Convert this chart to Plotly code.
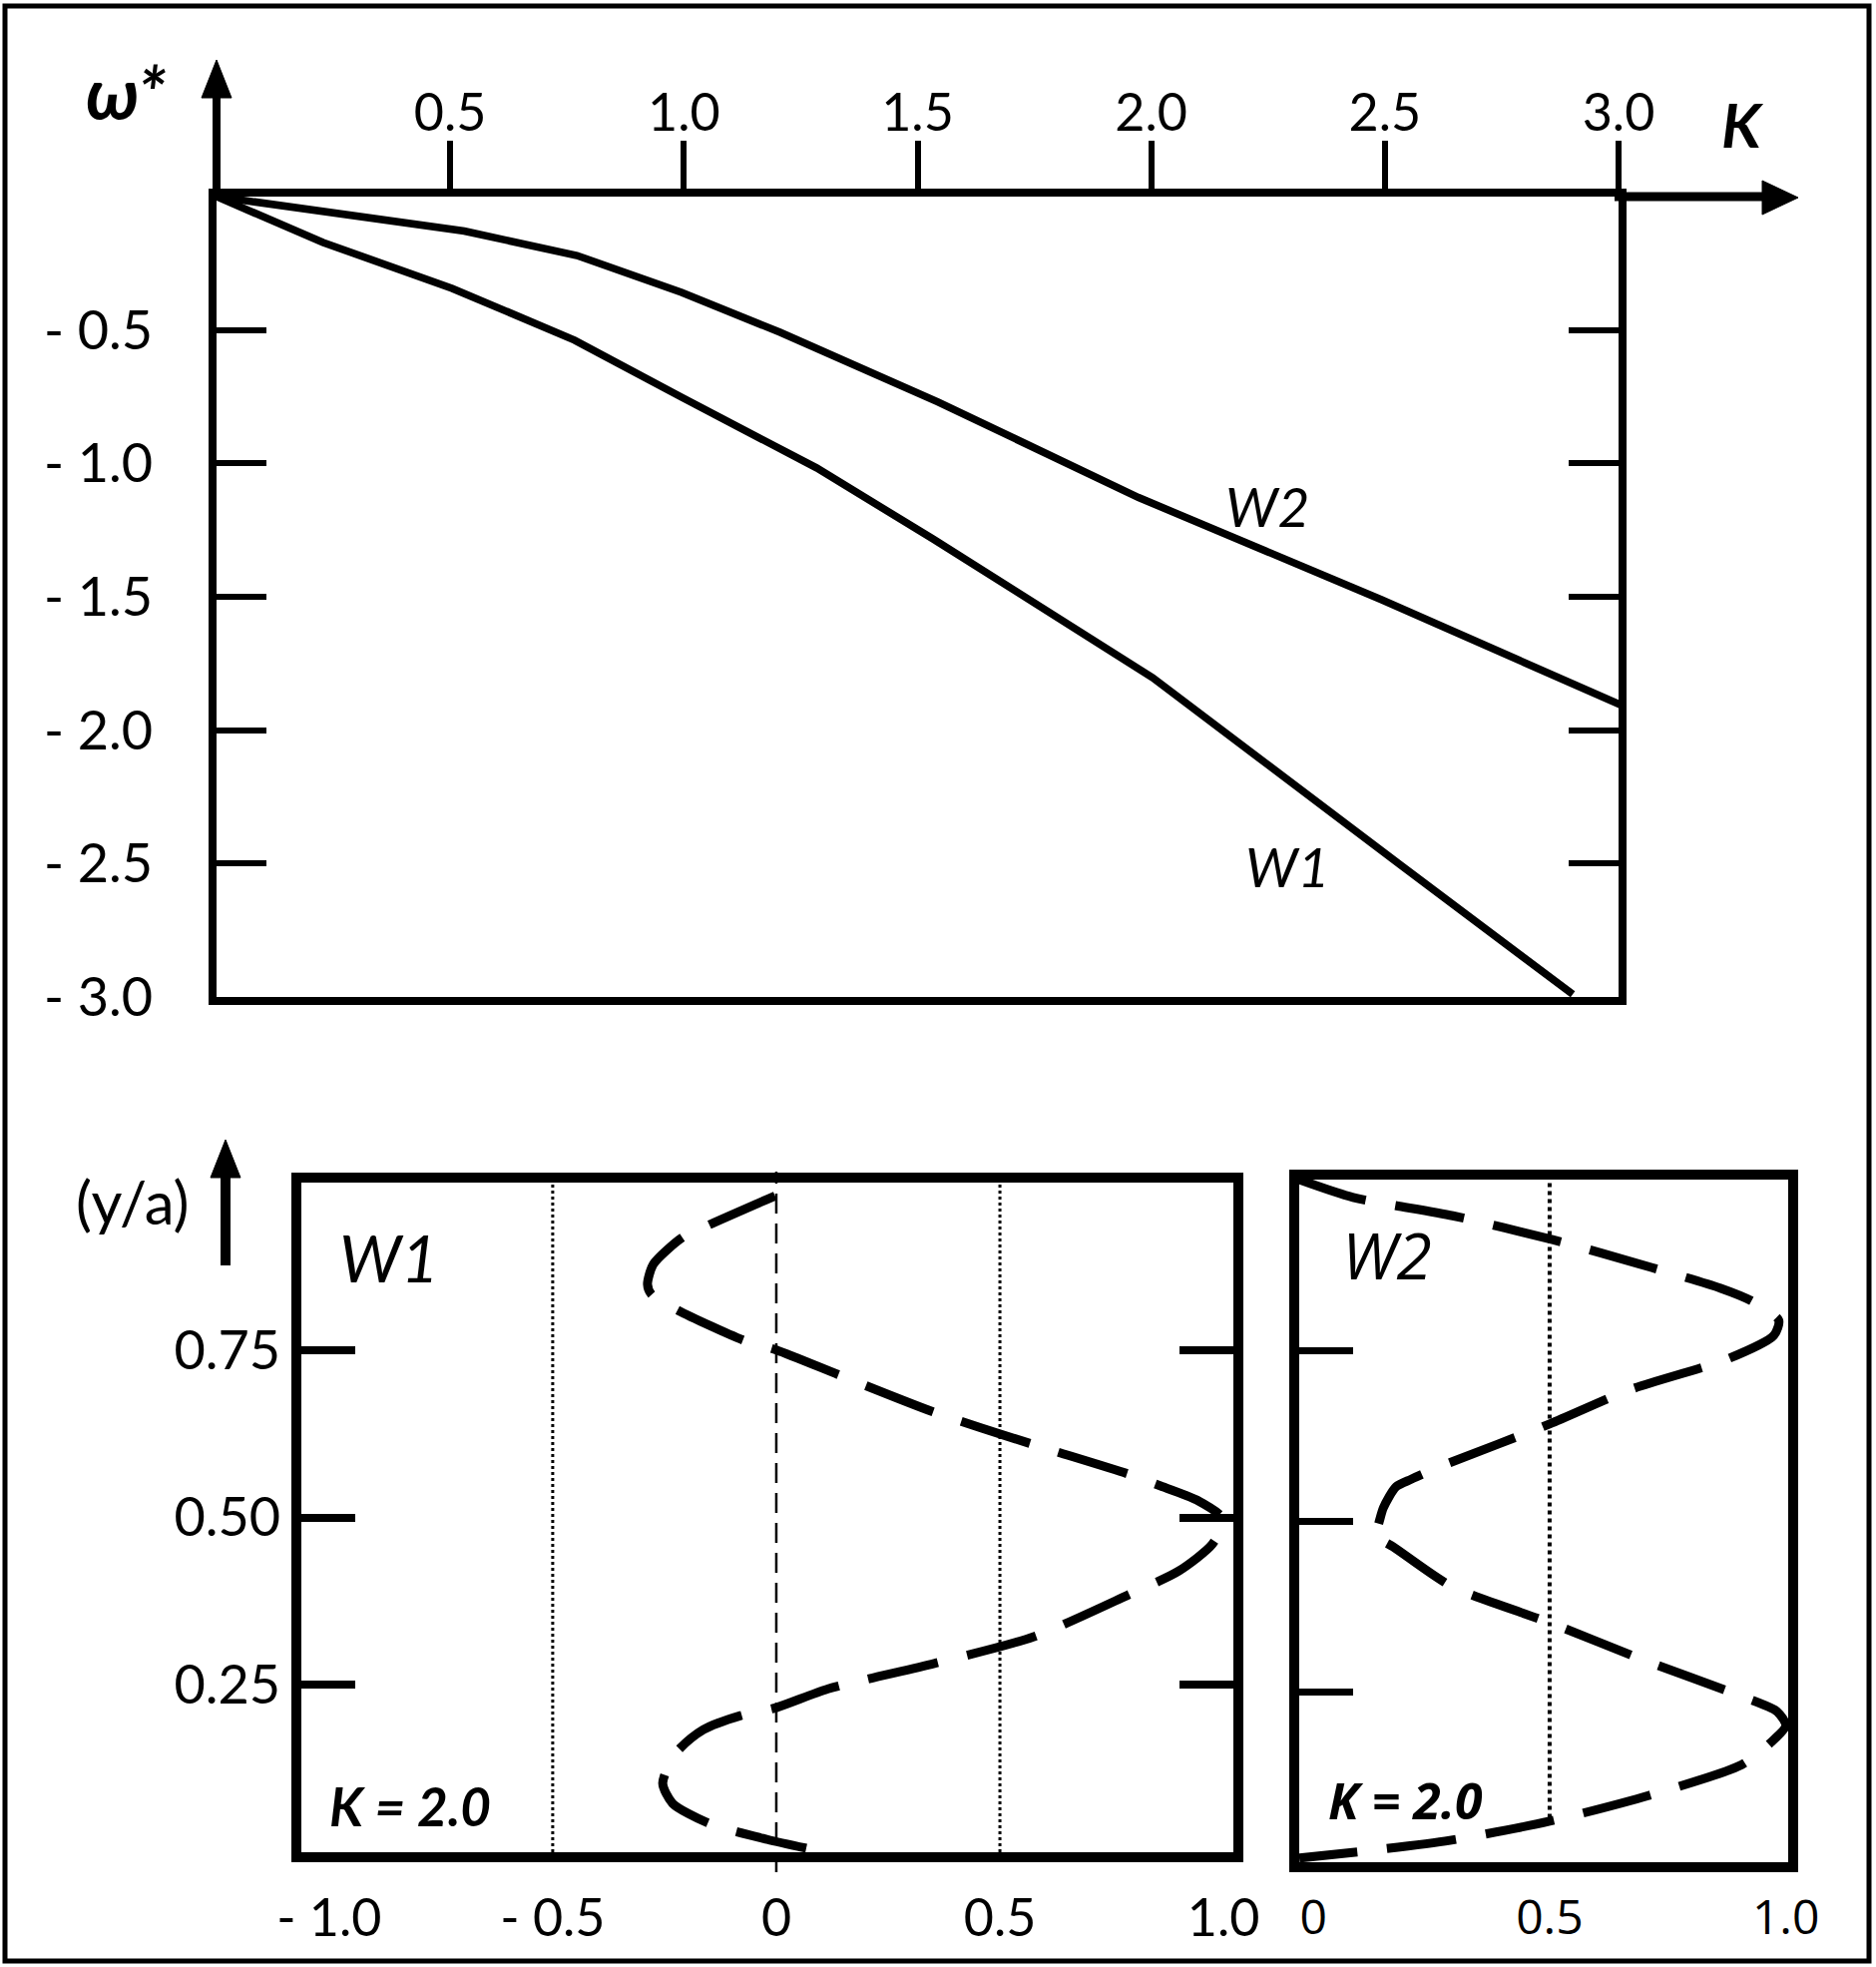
import plotly.graph_objects as go

# ---------------- data ----------------
# upper chart: omega* versus K for the two modes
K_W1 = [0, 0.228, 0.504, 0.766, 0.995, 1.284, 1.533, 2.003, 2.537, 2.902]
OMEGA_W1 = [0, -0.172, -0.344, -0.538, -0.752, -1.017, -1.283, -1.803, -2.51, -2.99]
K_W2 = [0, 0.53, 0.771, 0.995, 1.206, 1.544, 1.973, 2.492, 3.017]
OMEGA_W2 = [0, -0.129, -0.221, -0.359, -0.509, -0.77, -1.128, -1.51, -1.915]

K_TICKS = [0.5, 1.0, 1.5, 2.0, 2.5, 3.0]
K_TICK_TEXT = ["0.5", "1.0", "1.5", "2.0", "2.5", "3.0"]
OMEGA_TICKS = [-0.5, -1.0, -1.5, -2.0, -2.5, -3.0]
OMEGA_TICK_TEXT = ["- 0.5", "- 1.0", "- 1.5", "- 2.0", "- 2.5", "- 3.0"]

# lower charts: mode profiles across (y/a) for K = 2.0
PROFILE_W1_X = [0.067, -0.02, -0.15, -0.232, -0.254, -0.225, -0.163, -0.08, 0.0, 0.116,
                0.353, 0.576, 0.786, 0.90, 0.975, 1.0, 0.94, 0.855, 0.786, 0.569,
                0.353, 0.143, 0.0, -0.071, -0.219, -0.279, -0.288, -0.275, -0.21,
                -0.15, 0.0]
PROFILE_W1_Y = [0.006, 0.019, 0.043, 0.073, 0.103, 0.148, 0.183, 0.204, 0.216, 0.244,
                0.282, 0.322, 0.384, 0.42, 0.46, 0.497, 0.526, 0.548, 0.565, 0.610,
                0.657, 0.712, 0.750, 0.764, 0.809, 0.833, 0.848, 0.878, 0.918,
                0.937, 0.981]

PROFILE_W2_X = [-0.03, 0.084, 0.295, 0.506, 0.717, 0.861, 0.928, 0.985, 0.975, 0.876,
                0.669, 0.5, 0.27, 0.207, 0.175, 0.148, 0.135, 0.125, 0.169, 0.293,
                0.5, 0.696, 0.907, 0.981, 1.0, 0.966, 0.907, 0.711, 0.5, 0.289,
                0.131, -0.03]
PROFILE_W2_Y = [1.0, 0.974, 0.947, 0.912, 0.871, 0.841, 0.822, 0.794, 0.772, 0.737,
                0.692, 0.642, 0.58, 0.561, 0.55, 0.519, 0.49, 0.481, 0.462, 0.404,
                0.351, 0.297, 0.243, 0.221, 0.2, 0.174, 0.143, 0.098, 0.06, 0.032,
                0.018, 0.006]

YA_TICKS = [0.25, 0.5, 0.75]
YA_TICK_TEXT = ["0.25", "0.50", "0.75"]
W1_X_TICKS = [-1.0, -0.5, 0.0, 0.5, 1.0]
W1_X_TICK_TEXT = ["- 1.0", "- 0.5", "0", "0.5", "1.0"]
W2_X_TICKS = [0.0, 0.5, 1.0]
W2_X_TICK_TEXT = ["0", "0.5", "1.0"]

# ---------------- layout helpers ----------------
W, H = 1880, 1971


def PX(x):
    return x / W


def PY(y):
    return 1 - y / H


BLACK = "#000000"
FONT = "Lato, 'Liberation Sans', sans-serif"
FONT2 = "'Open Sans', 'DejaVu Sans', sans-serif"

fig = go.Figure()

# upper chart curves
fig.add_trace(go.Scatter(x=K_W1, y=OMEGA_W1, mode="lines",
                         line=dict(color=BLACK, width=7.5), xaxis="x", yaxis="y",
                         showlegend=False, hoverinfo="skip"))
fig.add_trace(go.Scatter(x=K_W2, y=OMEGA_W2, mode="lines",
                         line=dict(color=BLACK, width=7.5), xaxis="x", yaxis="y",
                         showlegend=False, hoverinfo="skip"))

# lower profile curves
fig.add_trace(go.Scatter(x=PROFILE_W1_X, y=PROFILE_W1_Y, mode="lines",
                         line=dict(color=BLACK, width=9, dash="72px,30px",
                                   shape="spline", smoothing=0.7),
                         xaxis="x2", yaxis="y2", showlegend=False, hoverinfo="skip"))
fig.add_trace(go.Scatter(x=PROFILE_W2_X, y=PROFILE_W2_Y, mode="lines",
                         line=dict(color=BLACK, width=9, dash="70px,30px",
                                   shape="spline", smoothing=0.7),
                         xaxis="x3", yaxis="y3", showlegend=False, hoverinfo="skip"))

shapes = []
# outer frame
shapes.append(dict(type="rect", xref="paper", yref="paper",
                   x0=PX(5), x1=PX(1873), y0=PY(1965), y1=PY(6),
                   line=dict(color=BLACK, width=5)))
# y-axis arrow (upper chart)
shapes.append(dict(type="line", xref="paper", yref="paper",
                   x0=PX(217), x1=PX(217), y0=PY(200), y1=PY(92),
                   line=dict(color=BLACK, width=8)))
shapes.append(dict(type="path", xref="paper", yref="paper",
                   path=f"M {PX(217)} {PY(60)} L {PX(202)} {PY(98)} L {PX(232)} {PY(98)} Z",
                   fillcolor=BLACK, line=dict(color=BLACK, width=1)))
# x-axis arrow (upper chart)
shapes.append(dict(type="line", xref="paper", yref="paper",
                   x0=PX(1618), x1=PX(1772), y0=PY(197), y1=PY(197),
                   line=dict(color=BLACK, width=9)))
shapes.append(dict(type="path", xref="paper", yref="paper",
                   path=f"M {PX(1802)} {PY(198)} L {PX(1766)} {PY(181)} L {PX(1766)} {PY(215)} Z",
                   fillcolor=BLACK, line=dict(color=BLACK, width=1)))
# (y/a) arrow
shapes.append(dict(type="line", xref="paper", yref="paper",
                   x0=PX(226), x1=PX(226), y0=PY(1268), y1=PY(1172),
                   line=dict(color=BLACK, width=10)))
shapes.append(dict(type="path", xref="paper", yref="paper",
                   path=f"M {PX(226)} {PY(1142)} L {PX(211)} {PY(1180)} L {PX(241)} {PY(1180)} Z",
                   fillcolor=BLACK, line=dict(color=BLACK, width=1)))
# reference lines in the left profile panel
shapes.append(dict(type="line", xref="x2", yref="paper", x0=0, x1=0,
                   y0=PY(1876), y1=PY(1174), layer="below",
                   line=dict(color=BLACK, width=2.5, dash="20px,10px")))
for xv in (-0.5, 0.5):
    shapes.append(dict(type="line", xref="x2", yref="y2", x0=xv, x1=xv, y0=0, y1=1,
                       layer="below", line=dict(color=BLACK, width=3, dash="dot")))
# reference line in the right profile panel
shapes.append(dict(type="line", xref="x3", yref="y3", x0=0.5, x1=0.5, y0=0.065, y1=1,
                   layer="below", line=dict(color=BLACK, width=4, dash="dot")))


def note(text, xref, yref, x, y, size, family=FONT):
    return dict(text=text, xref=xref, yref=yref, x=x, y=y, showarrow=False,
                xanchor="center", yanchor="middle",
                font=dict(family=family, size=size, color=BLACK))


annotations = [
    note("<b><i>ω*</i></b>", "paper", "paper", PX(126), PY(92), 72),
    note("<b><i>K</i></b>", "paper", "paper", PX(1746), PY(124), 62),
    note("<i>W2</i>", "x", "y", 2.249, -1.16, 55),
    note("<i>W1</i>", "x", "y", 2.291, -2.51, 55),
    note("(y/a)", "paper", "paper", PX(133), PY(1204), 60),
    note("<i>W1</i>", "x2", "y2", -0.866, 0.888, 65),
    note("<b><i>K = 2.0</i></b>", "x2", "y2", -0.819, 0.069, 53),
    note("<i>W2</i>", "x3", "y3", 0.156, 0.89, 64, FONT2),
    note("<b><i>K = 2.0</i></b>", "x3", "y3", 0.194, 0.091, 50, FONT2),
]

common = dict(showgrid=False, zeroline=False, linecolor=BLACK, tickcolor=BLACK,
              fixedrange=True, automargin=False)

fig.update_layout(
    width=W, height=H, autosize=False,
    margin=dict(l=0, r=0, t=0, b=0, pad=0),
    paper_bgcolor="white", plot_bgcolor="white",
    showlegend=False,
    shapes=shapes, annotations=annotations,
    xaxis=dict(domain=[PX(217), PX(1622)], range=[0, 3], side="top", anchor="y",
               showline=True, linewidth=8, mirror=True, ticks="outside", ticklen=48,
               tickwidth=6, tickvals=K_TICKS, ticktext=K_TICK_TEXT, ticklabelstandoff=-11,
               tickfont=dict(family=FONT, size=52, color=BLACK), **common),
    yaxis=dict(domain=[PY(999), PY(197)], range=[-3, 0], anchor="x",
               showline=True, linewidth=8, mirror="ticks", ticks="inside", ticklen=50,
               tickwidth=6, tickvals=OMEGA_TICKS, ticktext=OMEGA_TICK_TEXT,
               ticklabelstandoff=45,
               tickfont=dict(family=FONT, size=54, color=BLACK), **common),
    xaxis2=dict(domain=[PX(302), PX(1236)], range=[-1.062, 1.022], anchor="y2",
                showline=True, linewidth=10, mirror=True, ticks="",
                tickvals=W1_X_TICKS, ticktext=W1_X_TICK_TEXT, ticklabelstandoff=12,
                tickfont=dict(family=FONT, size=52, color=BLACK), **common),
    yaxis2=dict(domain=[PY(1856), PY(1185)], range=[0, 1], anchor="x2",
                showline=True, linewidth=10, mirror="ticks", ticks="inside", ticklen=54,
                tickwidth=8, tickvals=YA_TICKS, ticktext=YA_TICK_TEXT,
                ticklabelstandoff=0,
                tickfont=dict(family=FONT, size=54, color=BLACK), **common),
    xaxis3=dict(domain=[PX(1302), PX(1792)], range=[-0.03, 1.005], anchor="y3",
                showline=True, linewidth=10, mirror=True, ticks="",
                tickvals=W2_X_TICKS, ticktext=W2_X_TICK_TEXT, ticklabelstandoff=4,
                tickfont=dict(family=FONT2, size=48, color=BLACK), **common),
    yaxis3=dict(domain=[PY(1866), PY(1182)], range=[0, 1], anchor="x3",
                showline=True, linewidth=10, mirror=True, ticks="inside", ticklen=54,
                tickwidth=7, tickvals=YA_TICKS, showticklabels=False, **common),
)

fig.write_html(
    "out.html",
    config={"displayModeBar": False, "responsive": False},
    post_script=("document.body.style.margin='0';"
                 "document.body.style.overflow='hidden';"
                 "document.documentElement.style.overflow='hidden';"),
)
